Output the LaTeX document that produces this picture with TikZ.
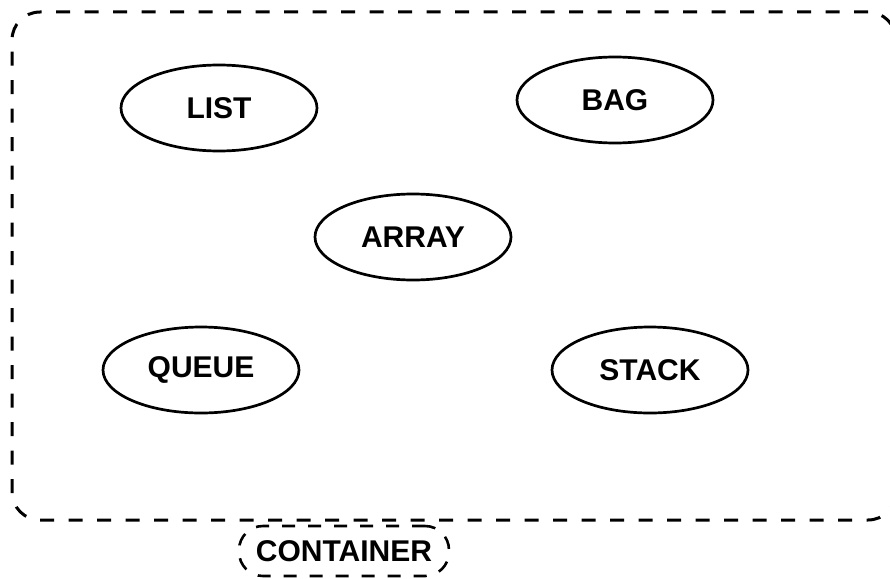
\documentclass[tikz,border=0pt]{standalone}
\usepackage{fontspec}
\setmainfont{Liberation Sans}
\usetikzlibrary{shapes.geometric}
\begin{document}
\begin{tikzpicture}[x=1pt,y=-1pt,
  labelfont/.style={font=\fontsize{30}{35}\selectfont\bfseries},
  kind/.style={draw, ellipse, line width=2.7pt, inner sep=0pt,
    minimum width=196pt, minimum height=86pt, labelfont},
  frame/.style={draw, rectangle, line width=3pt, dash pattern=on 14pt off 14.5pt,
    rounded corners=28pt, inner sep=0pt},
  tag/.style={draw, rectangle, line width=2.6pt, dash pattern=on 13pt off 13pt,
    rounded corners=24pt, inner sep=0pt, minimum width=210pt, minimum height=50pt, labelfont}]
  \useasboundingbox (0,0) rectangle (890,578);
  % outer dashed grouping frame
  \node[frame, minimum width=884pt, minimum height=508pt] (container) at (454,266) {};
  % the collection kinds
  \node[kind] (list)  at (219,108) {LIST};
  \node[kind] (bag)   at (615,100) {BAG};
  \node[kind] (array) at (413,237) {ARRAY};
  \node[kind] (queue) at (201,370) {QUEUE};
  \node[kind] (stack) at (650,370) {STACK};
  % caption of the frame
  \node[tag] (containerlabel) at (344,551) {CONTAINER};
\end{tikzpicture}
\end{document}
